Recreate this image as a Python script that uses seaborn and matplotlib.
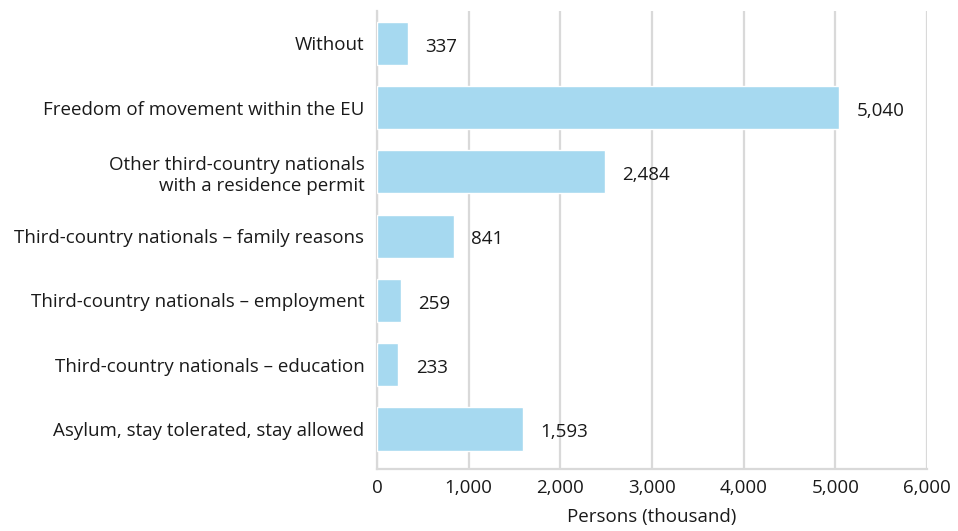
import seaborn as sns
import matplotlib.pyplot as plt
import pandas as pd
from matplotlib.ticker import FuncFormatter

categories = [
    "Without",
    "Freedom of movement within the EU",
    "Other third-country nationals\nwith a residence permit",
    "Third-country nationals – family reasons",
    "Third-country nationals – employment",
    "Third-country nationals – education",
    "Asylum, stay tolerated, stay allowed",
]
values = [337, 5040, 2484, 841, 259, 233, 1593]

df = pd.DataFrame({"category": categories, "persons": values})

sns.set_style("white")
plt.rcParams["font.family"] = ["Open Sans", "DejaVu Sans"]
fs = 13.5
txt = "#1a1a1a"

fig = plt.figure(figsize=(9.58, 5.31), dpi=100)
ax = fig.add_axes([0.3935, 0.117, 0.574, 0.862])

sns.barplot(
    data=df,
    y="category",
    x="persons",
    orient="h",
    color="#a6d9f0",
    saturation=1,
    width=0.67,
    ax=ax,
    zorder=3,
)

for i, v in enumerate(values):
    ax.text(v + 190, i + 0.05, f"{v:,}", va="center", ha="left",
            fontsize=fs, color=txt, zorder=4)

ax.set_xlim(0, 6000)
ax.set_ylim(6.62, -0.5)
ax.set_xticks(range(0, 6001, 1000))
ax.xaxis.set_major_formatter(FuncFormatter(lambda x, _: f"{int(x):,}"))
ax.grid(axis="x", color="#d9d9d9", linewidth=1.6, zorder=0)
ax.grid(axis="y", visible=False)
for s in ["top", "right"]:
    ax.spines[s].set_visible(False)
for s in ["left", "bottom"]:
    ax.spines[s].set_color("#d9d9d9")
    ax.spines[s].set_linewidth(1.6)
ax.tick_params(axis="both", length=0, labelsize=fs, colors=txt)
ax.tick_params(axis="x", pad=7)
ax.tick_params(axis="y", pad=9)
ax.set_ylabel("")
ax.set_xlabel("Persons (thousand)", fontsize=fs, color=txt, labelpad=8)

fig.savefig("out.png", dpi=100)
